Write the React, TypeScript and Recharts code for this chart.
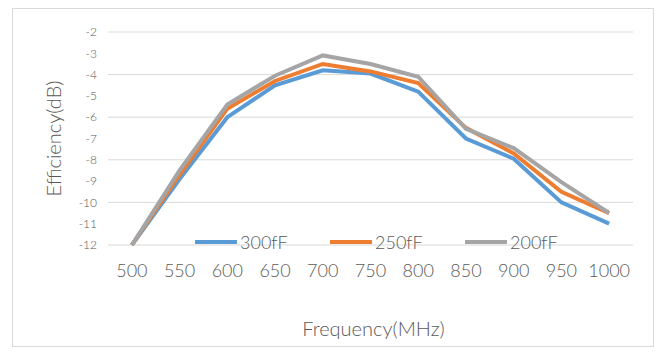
import React from "react";
import {
  LineChart, Line, XAxis, YAxis, CartesianGrid, Legend, Label,
} from "recharts";

const freqs = [500, 550, 600, 650, 700, 750, 800, 850, 900, 950, 1000];
const eff300 = [-12, -8.9, -6.0, -4.5, -3.8, -3.95, -4.8, -7.0, -7.95, -10.0, -11.0];
const eff250 = [-12, -8.7, -5.6, -4.3, -3.5, -3.85, -4.4, -6.5, -7.7, -9.5, -10.5];
const eff200 = [-12, -8.5, -5.4, -4.05, -3.1, -3.5, -4.1, -6.55, -7.45, -9.05, -10.5];
const yTicks = [-12, -11, -10, -9, -8, -7, -6, -5, -4, -3, -2];
// band edges for the little tick marks on the top axis
const bandEdges = [475, 525, 575, 625, 675, 725, 775, 825, 875, 925, 975, 1025];

const seriesList = [
  { key: "s300", name: "300fF", color: "#5B9BD5" },
  { key: "s250", name: "250fF", color: "#ED7D31" },
  { key: "s200", name: "200fF", color: "#A5A5A5" },
];

const data = freqs.map((f, i) => ({
  freq: f,
  s300: eff300[i],
  s250: eff250[i],
  s200: eff200[i],
}));

const FONT = "Lato, 'Open Sans', sans-serif";
const TEXT = "#595959";
const GRID = "#d9d9d9";

const seriesOrder = (name: string) => seriesList.findIndex((s) => s.name === name);

const renderLegend = (props: any) => {
  const items = [...(props.payload || [])].sort(
    (a: any, b: any) => seriesOrder(a.value) - seriesOrder(b.value)
  );
  return (
    <div style={{ display: "flex", fontFamily: FONT, fontWeight: 300 }}>
      {items.map((it: any) => (
        <div key={it.value} style={{ display: "flex", alignItems: "center", width: 135 }}>
          <svg width={42} height={6}>
            <line x1={0} y1={3} x2={42} y2={3} stroke={it.color} strokeWidth={4} strokeLinecap="round" />
          </svg>
          <span style={{ marginLeft: 3, fontSize: 18, color: TEXT, lineHeight: "18px" }}>{it.value}</span>
        </div>
      ))}
    </div>
  );
};

export default function App() {
  return (
    <div style={{ position: "absolute", left: 0, top: 0, width: 665, height: 361, background: "#fff" }}>
      <div
        style={{
          position: "absolute", left: 12, top: 8, width: 642, height: 339,
          border: "1px solid #d9d9d9", boxSizing: "border-box",
        }}
      />
      <LineChart
        width={665}
        height={361}
        data={data}
        margin={{ top: 32, right: 32, left: 0, bottom: 0 }}
        style={{ position: "absolute", left: 0, top: 0, fontFamily: FONT, fontWeight: 300 }}
      >
        <CartesianGrid vertical={false} stroke={GRID} />
        <XAxis
          xAxisId="top"
          orientation="top"
          type="number"
          dataKey="freq"
          domain={[475, 1025]}
          ticks={bandEdges}
          height={0}
          mirror
          tick={false}
          tickSize={5}
          tickLine={{ stroke: GRID }}
          axisLine={{ stroke: GRID }}
        />
        <XAxis
          type="number"
          dataKey="freq"
          domain={[475, 1025]}
          ticks={freqs}
          height={116}
          axisLine={false}
          tickLine={false}
          tickMargin={13}
          tick={{ fontSize: 18, fill: TEXT }}
        >
          <Label value="Frequency(MHz)" position="insideBottom" offset={25} fontSize={20} fill={TEXT} dx={3} />
        </XAxis>
        <YAxis
          domain={[-12, -2]}
          ticks={yTicks}
          width={108}
          axisLine={false}
          tickLine={false}
          tickMargin={5}
          tick={{ fontSize: 12, fill: TEXT }}
        >
          <Label value="Efficiency(dB)" position="center" angle={-90} fontSize={20} fill={TEXT} />
        </YAxis>
        <Legend
          verticalAlign="middle"
          align="center"
          content={renderLegend}
          wrapperStyle={{ left: 195, top: 233, width: 420 }}
        />
        {seriesList.map((s) => (
          <Line
            key={s.key}
            xAxisId={0}
            type="linear"
            dataKey={s.key}
            name={s.name}
            stroke={s.color}
            strokeWidth={4}
            dot={false}
            isAnimationActive={false}
          />
        ))}
      </LineChart>
    </div>
  );
}
